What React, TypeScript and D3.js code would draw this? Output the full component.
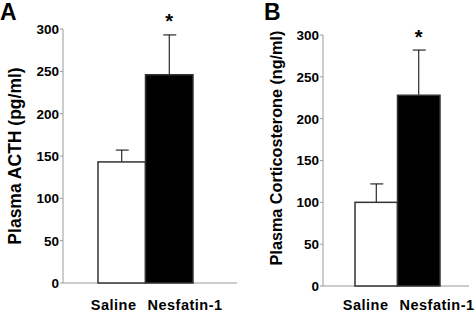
import React from "react";
import * as d3 from "d3";

const categories = ["Saline", "Nesfatin-1"];
const acthMean = [143, 246];
const acthErr = [14, 47];
const corticoMean = [100, 228];
const corticoErr = [22, 54];
const yTicks = [0, 50, 100, 150, 200, 250, 300];
const fills = ["#ffffff", "#000000"];

const FONT = "'Liberation Sans', Arial, Helvetica, sans-serif";

type PanelProps = {
  letter: string;
  letterX: number;
  yLabel: string;
  yLabelX: number;
  yLabelY: number;
  yLabelSize: number;
  means: number[];
  errs: number[];
  axisX: number;
  rightX: number;
  yTop: number;
  yBottom: number;
  barLeft: number;
  barRight: number;
  starY: number;
};

function Panel(p: PanelProps) {
  const y = d3.scaleLinear().domain([0, 300]).range([p.yBottom, p.yTop]);
  const x = d3.scaleBand<string>().domain(categories).range([p.barLeft, p.barRight]).padding(0);
  const bw = x.bandwidth();
  const boundary = (x(categories[1]) as number);
  const axisColor = "#9a9a9a";
  return (
    <g>
      <text x={p.letterX} y={20} fontFamily={FONT} fontWeight="bold" fontSize={23}>{p.letter}</text>
      {/* y axis */}
      <line x1={p.axisX} x2={p.axisX} y1={y(300)} y2={y(0)} stroke={axisColor} strokeWidth={1} />
      <line x1={p.axisX} x2={p.rightX} y1={y(0)} y2={y(0)} stroke={axisColor} strokeWidth={1} />
      {yTicks.map((t) => (
        <g key={t}>
          <line x1={p.axisX - 3} x2={p.axisX} y1={y(t)} y2={y(t)} stroke={axisColor} strokeWidth={1} />
          <text x={p.axisX - 4} y={y(t)} dy="0.36em" textAnchor="end" fontFamily={FONT} fontWeight="bold" fontSize={13.5}>{t}</text>
        </g>
      ))}
      <text
        transform={`translate(${p.yLabelX},${p.yLabelY}) rotate(-90)`}
        textAnchor="middle"
        fontFamily={FONT}
        fontWeight="bold"
        fontSize={p.yLabelSize}
      >{p.yLabel}</text>
      {/* bars */}
      {categories.map((c, i) => {
        const x0 = x(c) as number;
        const cx = x0 + bw / 2;
        const top = y(p.means[i]);
        const etop = y(p.means[i] + p.errs[i]);
        return (
          <g key={c}>
            <line x1={cx} x2={cx} y1={top} y2={etop} stroke="#000" strokeWidth={1} />
            <line x1={cx - 6} x2={cx + 7} y1={etop} y2={etop} stroke="#000" strokeWidth={1} />
            <rect x={x0} y={top} width={bw} height={y(0) - top} fill={fills[i]} stroke="#333" strokeWidth={1.5} />
          </g>
        );
      })}
      {/* star */}
      <text
        x={(x(categories[1]) as number) + bw / 2}
        y={p.starY}
        textAnchor="middle"
        fontFamily={FONT}
        fontWeight="bold"
        fontSize={20}
      >*</text>
      {/* x labels */}
      <text x={boundary - 9} y={310} textAnchor="end" fontFamily={FONT} fontWeight="bold" fontSize={14.5} letterSpacing={0.5}>{categories[0]}</text>
      <text x={boundary + 2} y={310} textAnchor="start" fontFamily={FONT} fontWeight="bold" fontSize={14.5} letterSpacing={0.5}>{categories[1]}</text>
    </g>
  );
}

export default function App() {
  return (
    <svg width={476} height={314} style={{ position: "absolute", left: 0, top: 0, background: "#fff" }}>
      <rect width={476} height={314} fill="#fff" />
      <Panel
        letter="A"
        letterX={0}
        yLabel="Plasma ACTH (pg/ml)"
        yLabelX={21}
        yLabelY={156}
        yLabelSize={17.5}
        means={acthMean}
        errs={acthErr}
        axisX={63}
        rightX={237}
        yTop={29}
        yBottom={283}
        barLeft={98}
        barRight={193}
        starY={28}
      />
      <Panel
        letter="B"
        letterX={264}
        yLabel="Plasma Corticosterone (ng/ml)"
        yLabelX={282}
        yLabelY={148}
        yLabelSize={16.2}
        means={corticoMean}
        errs={corticoErr}
        axisX={323}
        rightX={469}
        yTop={35}
        yBottom={286}
        barLeft={355}
        barRight={440}
        starY={44}
      />
    </svg>
  );
}
